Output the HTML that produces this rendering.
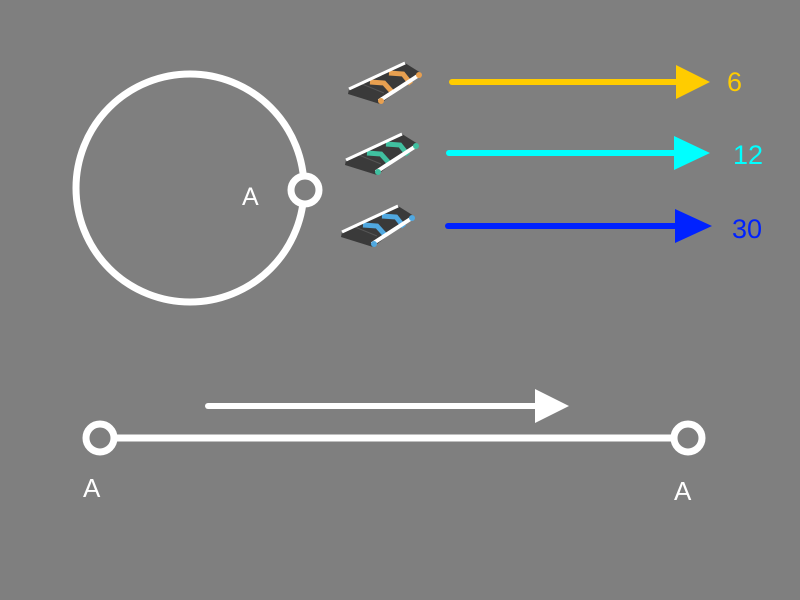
<!DOCTYPE html>
<html><head><meta charset="utf-8"><style>
html,body{margin:0;padding:0;background:#7f7f7f;}
svg{display:block;}
text{font-family:"Liberation Sans",sans-serif;}
</style></head><body>
<svg width="800" height="600" viewBox="0 0 800 600">
<defs>
<g id="belt">
<polygon points="349,89 405,63 421,73 380,104 348,94" fill="#3a3a3a"/>
<polyline points="362,84 384,93" fill="none" stroke="#555" stroke-width="1"/>
</g>
</defs>
<rect width="800" height="600" fill="#7f7f7f"/>
<circle cx="190" cy="188" r="114" fill="none" stroke="#fff" stroke-width="7"/>
<circle cx="305" cy="190" r="14" fill="#7f7f7f" stroke="#fff" stroke-width="7"/>
<text x="242" y="205" font-size="25" fill="#fff">A</text>

<g>
<use href="#belt"/>
<polyline points="370,82 384,83 393,93" fill="none" stroke="#e8a050" stroke-width="5"/>
<polyline points="389,73 403,74 411,84" fill="none" stroke="#e8a050" stroke-width="5"/>
<line x1="349" y1="89" x2="405" y2="63" stroke="#fff" stroke-width="3"/>
<line x1="379" y1="101" x2="419" y2="75" stroke="#fff" stroke-width="4"/>
<circle cx="381" cy="101" r="3" fill="#e8a050"/><circle cx="419" cy="75" r="3" fill="#e8a050"/>
</g>
<g transform="translate(-3,71)">
<use href="#belt"/>
<polyline points="370,82 384,83 393,93" fill="none" stroke="#40c0a0" stroke-width="5"/>
<polyline points="389,73 403,74 411,84" fill="none" stroke="#40c0a0" stroke-width="5"/>
<line x1="349" y1="89" x2="405" y2="63" stroke="#fff" stroke-width="3"/>
<line x1="379" y1="101" x2="419" y2="75" stroke="#fff" stroke-width="4"/>
<circle cx="381" cy="101" r="3" fill="#40c0a0"/><circle cx="419" cy="75" r="3" fill="#40c0a0"/>
</g>
<g transform="translate(-7,143)">
<use href="#belt"/>
<polyline points="370,82 384,83 393,93" fill="none" stroke="#50a8e0" stroke-width="5"/>
<polyline points="389,73 403,74 411,84" fill="none" stroke="#50a8e0" stroke-width="5"/>
<line x1="349" y1="89" x2="405" y2="63" stroke="#fff" stroke-width="3"/>
<line x1="379" y1="101" x2="419" y2="75" stroke="#fff" stroke-width="4"/>
<circle cx="381" cy="101" r="3" fill="#50a8e0"/><circle cx="419" cy="75" r="3" fill="#50a8e0"/>
</g>

<line x1="452" y1="82" x2="680" y2="82" stroke="#ffcc00" stroke-width="6" stroke-linecap="round"/>
<polygon points="676,65 710,82 676,99" fill="#ffcc00"/>
<text x="727" y="91" font-size="27" fill="#ffcc00">6</text>

<line x1="449" y1="153" x2="678" y2="153" stroke="#00ffff" stroke-width="6" stroke-linecap="round"/>
<polygon points="674,136 710,153 674,170" fill="#00ffff"/>
<text x="733" y="164" font-size="27" fill="#00ffff">12</text>

<line x1="448" y1="226" x2="679" y2="226" stroke="#0022ff" stroke-width="6" stroke-linecap="round"/>
<polygon points="675,209 712,226 675,243" fill="#0022ff"/>
<text x="732" y="238" font-size="27" fill="#0022ff">30</text>

<line x1="208" y1="406" x2="538" y2="406" stroke="#fff" stroke-width="6" stroke-linecap="round"/>
<polygon points="535,389 569,406 535,423" fill="#fff"/>
<line x1="100" y1="438" x2="688" y2="438" stroke="#fff" stroke-width="7"/>
<circle cx="100" cy="438" r="14" fill="#7f7f7f" stroke="#fff" stroke-width="7"/>
<circle cx="688" cy="438" r="14" fill="#7f7f7f" stroke="#fff" stroke-width="7"/>
<text x="83" y="497" font-size="26" fill="#fff">A</text>
<text x="674" y="500" font-size="26" fill="#fff">A</text>
</svg>
</body></html>
